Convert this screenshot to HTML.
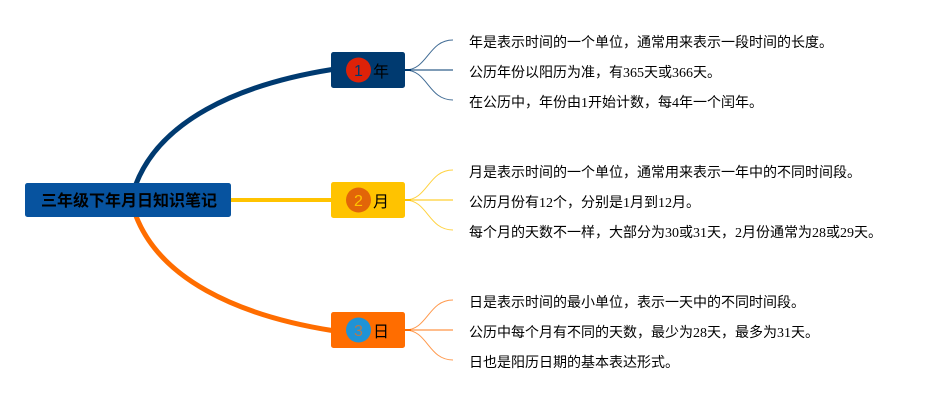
<!DOCTYPE html>
<html lang="zh">
<head>
<meta charset="utf-8">
<style>
html,body{margin:0;padding:0;background:#fff}
svg{display:block}
text{font-family:"Liberation Serif","Noto Sans CJK SC",serif;fill:#000}
.s{font-family:"Liberation Sans","Noto Sans CJK SC",sans-serif}
.t{font-size:14px}
</style>
</head>
<body>
<svg xmlns="http://www.w3.org/2000/svg" width="942" height="400" viewBox="0 0 942 400">
<rect width="942" height="400" fill="#fff"/>

<!-- main connectors -->
<path d="M136 184C160 122 235 85 332 69.500" fill="none" stroke="#003a70" stroke-width="5"/>
<path d="M231 200H331" fill="none" stroke="#ffc300" stroke-width="4"/>
<path d="M136 216C160 278 235 315 332 330.500" fill="none" stroke="#ff6d00" stroke-width="5"/>

<!-- branches 1 -->
<g fill="none" stroke="#003a70" stroke-opacity=".75" stroke-width="1">
<path d="M405 70C428 70 428 40 453 40"/>
<path d="M405 70H453" stroke-width="2" stroke-opacity=".5"/>
<path d="M405 70C428 70 428 100 453 100"/>
</g>
<path d="M405 70H411" stroke="#003a70" stroke-width="2"/>

<!-- branches 2 -->
<g fill="none" stroke="#ffc300" stroke-opacity=".75" stroke-width="1">
<path d="M405 200C428 200 428 170 453 170"/>
<path d="M405 200H453" stroke-width="2" stroke-opacity=".5"/>
<path d="M405 200C428 200 428 230 453 230"/>
</g>
<path d="M405 200H411" stroke="#ffc300" stroke-width="2"/>

<!-- branches 3 -->
<g fill="none" stroke="#ff6d00" stroke-opacity=".7" stroke-width="1">
<path d="M405 330C428 330 428 300 453 300"/>
<path d="M405 330H453" stroke-width="2" stroke-opacity=".45"/>
<path d="M405 330C428 330 428 360 453 360"/>
</g>
<path d="M405 330H411" stroke="#ff6d00" stroke-width="2"/>

<!-- center -->
<rect x="25" y="183" width="206" height="34" rx="2.500" fill="#07539f"/>
<text class="s" x="41" y="206" font-size="16" font-weight="700">三年级下年月日知识笔记</text>

<!-- topic 1 -->
<rect x="331" y="52" width="74" height="36" rx="2.500" fill="#003a70"/>
<circle cx="358.500" cy="70" r="12.500" fill="#dd2208"/>
<text class="s" x="358.500" y="76" font-size="16" text-anchor="middle" style="fill:#003a70">1</text>
<text class="s" x="373" y="77" font-size="16">年</text>

<!-- topic 2 -->
<rect x="331" y="182" width="74" height="36" rx="2.500" fill="#ffc300"/>
<circle cx="358.500" cy="200" r="12.500" fill="#e26508"/>
<text class="s" x="358.500" y="206" font-size="16" text-anchor="middle" style="fill:#ffc300">2</text>
<text class="s" x="373" y="207" font-size="16">月</text>

<!-- topic 3 -->
<rect x="331" y="312" width="74" height="36" rx="2.500" fill="#ff6d00"/>
<circle cx="358.500" cy="330" r="12.500" fill="#1f93d6"/>
<text class="s" x="358.500" y="336" font-size="16" text-anchor="middle" style="fill:#b37a4d">3</text>
<text class="s" x="373" y="337" font-size="16">日</text>

<!-- leaves -->
<g class="t">
<text class="t" x="469" y="47">年是表示时间的一个单位，通常用来表示一段时间的长度。</text>
<text class="t" x="469" y="77">公历年份以阳历为准，有365天或366天。</text>
<text class="t" x="469" y="107">在公历中，年份由1开始计数，每4年一个闰年。</text>
<text class="t" x="469" y="177">月是表示时间的一个单位，通常用来表示一年中的不同时间段。</text>
<text class="t" x="469" y="207">公历月份有12个，分别是1月到12月。</text>
<text class="t" x="469" y="237">每个月的天数不一样，大部分为30或31天，2月份通常为28或29天。</text>
<text class="t" x="469" y="307">日是表示时间的最小单位，表示一天中的不同时间段。</text>
<text class="t" x="469" y="337">公历中每个月有不同的天数，最少为28天，最多为31天。</text>
<text class="t" x="469" y="367">日也是阳历日期的基本表达形式。</text>
</g>
</svg>
</body>
</html>
